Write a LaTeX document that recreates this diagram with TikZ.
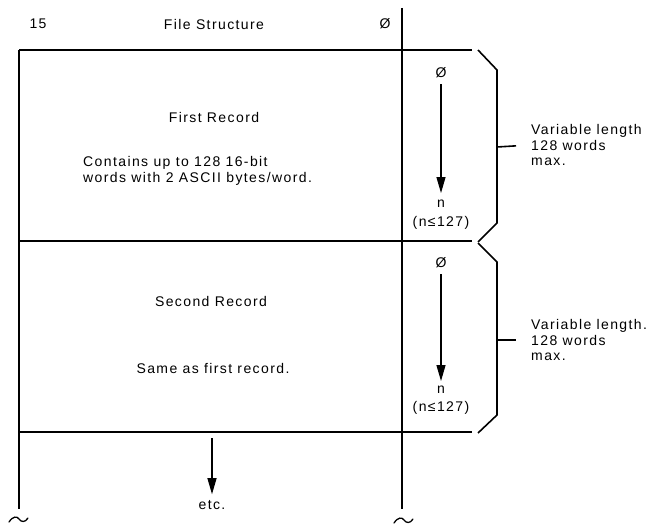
\documentclass[tikz,border=0pt]{standalone}
\usepackage{fontspec}
\setmainfont{Liberation Sans}[LetterSpace=10]
\usetikzlibrary{arrows.meta}

\begin{document}
\begin{tikzpicture}[x=1pt, y=-1pt, >={Triangle[length=16pt,width=9pt]},
    lbl/.style={inner sep=1pt, font=\fontsize{14}{15.5}\selectfont},
    rule/.style={line width=1.4pt},
    brace/.style={line width=1.6pt, line join=miter},
    flow/.style={->, line width=1.2pt},
    cut/.style={line width=1.3pt, line cap=round}]
    \useasboundingbox (0,0) rectangle (653,524);

    \coordinate (tl) at (19,50);
    \coordinate (tr) at (472,50);
    \coordinate (ml) at (19,241);
    \coordinate (mr) at (472,241);
    \coordinate (bl) at (19,432);
    \coordinate (br) at (472,432);
    \coordinate (lbot) at (19,509);
    \coordinate (rtop) at (402,8);
    \coordinate (rbot) at (402,509);

    \draw[rule] (tl) -- (tr);
    \draw[rule] (ml) -- (mr);
    \draw[rule] (bl) -- (br);
    \draw[rule] (tl) -- (lbot);
    \draw[rule] (rtop) -- (rbot);

    \node (bit15) [lbl] at (38,24) {15};
    \node (title) [lbl] at (214,24) {File Structure};
    \node (bit0) [lbl] at (385,24) {Ø};

    \node (rec1) [lbl] at (214,117) {First Record};
    \node (rec1txt) [lbl, anchor=west, align=left] at (82,171) {Contains up to 128 16-bit\\words with 2 ASCII bytes/word.};
    \node (rec2) [lbl] at (211,301) {Second Record};
    \node (rec2txt) [lbl] at (213,368) {Same as first record.};

    \node (z1) [lbl] at (441,73) {Ø};
    \node (n1) [lbl] at (441,204) {n};
    \node (lim1) [lbl] at (441,223) {(n≤127)};
    \node (z2) [lbl] at (441,263) {Ø};
    \node (n2) [lbl] at (441,390) {n};
    \node (lim2) [lbl] at (441,408) {(n≤127)};
    \draw[flow, shorten <=5pt, shorten >=6pt] (z1) -- (n1);
    \draw[flow, shorten <=5pt, shorten >=4pt] (z2) -- (n2);

    \draw[brace] (478,50) -- (497,70) -- (497,223) -- (478,242);
    \draw[brace] (478,243) -- (497,262) -- (497,415) -- (478,433);
    \coordinate (tip1) at (497,147);
    \coordinate (tip2) at (497,340);
    \node (var1) [lbl, anchor=west, align=left] at (530,145) {Variable length\\128 words\\max.};
    \node (var2) [lbl, anchor=west, align=left] at (530,340) {Variable length.\\128 words\\max.};
    \draw[brace, shorten >=14pt] (tip1) -- (var1.west);
    \draw[brace, shorten >=14pt] (tip2) -- (var2.west);

    \coordinate (etcstart) at (212,438);
    \node (etc) [lbl] at (212,505) {etc.};
    \draw[flow, shorten >=5pt] (etcstart) -- (etc);

    \draw[cut] (9,522) .. controls (13,516) and (17,516) .. (19,519) .. controls (21,522) and (25,523) .. (28,518);
    \draw[cut] (394,523) .. controls (398,517) and (402,517) .. (404,520) .. controls (406,523) and (410,524) .. (413,519);
\end{tikzpicture}
\end{document}
